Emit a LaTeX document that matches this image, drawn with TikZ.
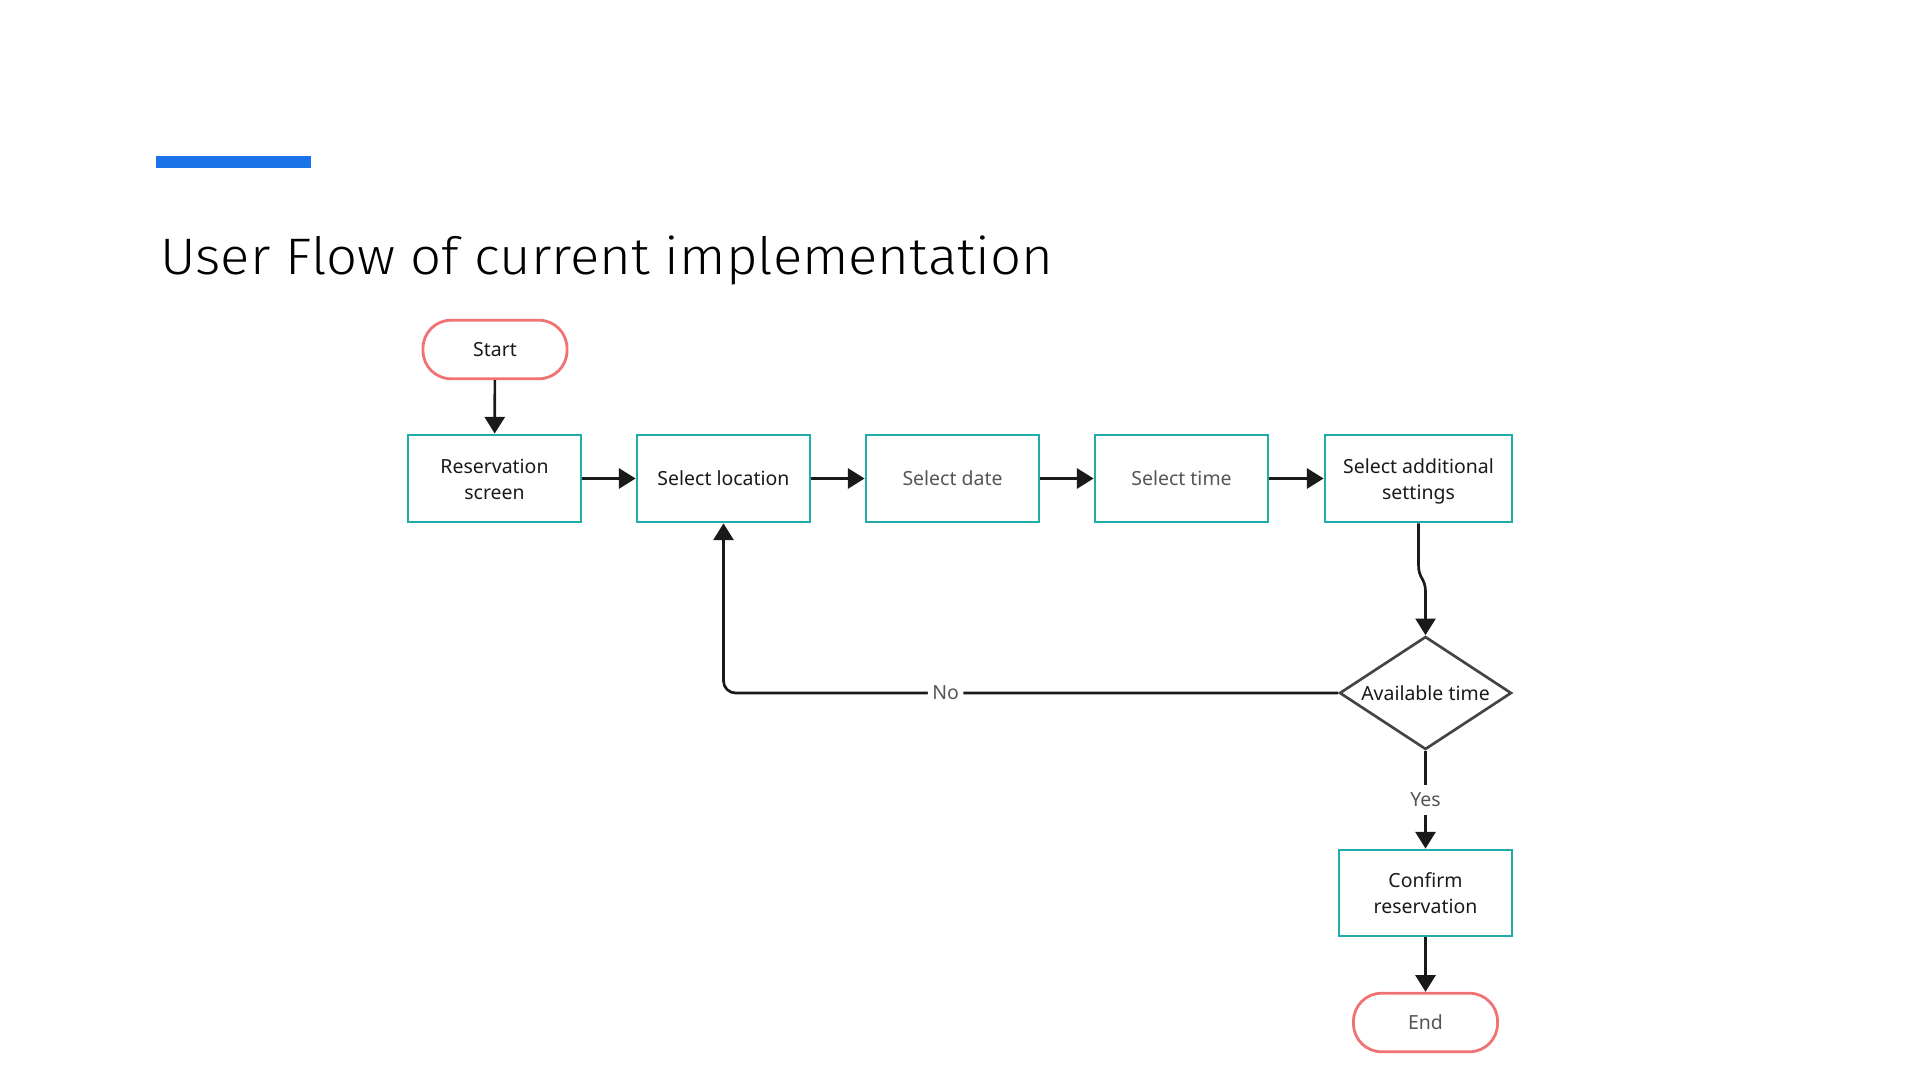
\documentclass[tikz,border=0pt]{standalone}
\usepackage{fontspec}
\setmainfont{Noto Sans}
\newfontfamily\titlefont{Fira Sans Light}
\usetikzlibrary{arrows.meta,shapes.geometric}
\definecolor{tealb}{HTML}{20ACA8}
\definecolor{redb}{HTML}{F07272}
\definecolor{bluebar}{HTML}{1A73E8}
\definecolor{ink}{HTML}{1A1A1A}
\definecolor{soft}{HTML}{555555}
\definecolor{decline}{HTML}{444444}
\newcommand{\twolines}[2]{\raisebox{-1.9pt}[\height][\depth]{\begin{tabular}{@{}c@{}}#1\\#2\end{tabular}}}
\begin{document}
\begin{tikzpicture}[x=0.75pt,y=-0.75pt,
  nodefont/.style={font=\fontsize{14.6pt}{19.3pt}\selectfont},
  proc/.style={nodefont, draw=tealb, line width=2.1pt, minimum width=129.75pt,
    minimum height=65.25pt, inner sep=0pt, align=center, text=ink},
  term/.style={nodefont, draw=redb, line width=2.1pt, rounded corners=21pt,
    minimum width=108pt, minimum height=43.9pt, inner sep=0pt, align=center, text=ink},
  dec/.style={nodefont, draw=decline, line width=2pt, shape=diamond, shape aspect=1.52,
    minimum width=129pt, minimum height=84.75pt, inner sep=0pt, text=ink},
  conn/.style={draw=ink, line width=2pt, -{Triangle[length=12.5pt,width=15pt]}},
  lbl/.style={nodefont, fill=white, text=soft, inner xsep=3.3pt, inner ysep=6pt}]
\useasboundingbox (0,0) rectangle (1920,1080);
\fill[white] (0,0) rectangle (1920,1080);
% header
\fill[bluebar] (156,156) rectangle (311,168);
\node[anchor=base west, inner sep=0pt] (title) at (160,275)
  {\resizebox{669.75pt}{29pt}{\titlefont User Flow of current implementation}};
% nodes
\node[term] (start) at (495,349.5) {Start};
\node[proc] (res)  at (494.5,478.5) {\twolines{Reservation}{screen}};
\node[proc] (loc)  at (723.5,478.5) {Select location};
\node[proc, text=soft] (date) at (952.5,478.5) {Select date};
\node[proc, text=soft] (time) at (1181.5,478.5) {Select time};
\node[proc, minimum width=140.25pt] (set) at (1418.5,478.5) {\twolines{Select additional}{settings}};
\node[dec] (avail) at (1425.5,693) {Available time};
\node[proc, minimum height=64.5pt] (conf) at (1425.5,893) {\twolines{Confirm}{reservation}};
\node[term, text=soft] (end) at (1425.5,1022.5) {End};
% connectors
\draw[conn] (start) -- (res);
\draw[conn] (res) -- (loc);
\draw[conn] (loc) -- (date);
\draw[conn] (date) -- (time);
\draw[conn] (time) -- (set);
\coordinate (b1) at (1418.5,565);
\coordinate (b2) at (1425.5,592);
\draw[conn] (set.south) -- (b1) .. controls +(0,14) and +(0,-14) .. (b2) -- (avail.north);
\draw[conn, rounded corners=9pt] (avail.west) -- node[lbl, pos=0.6386] {No} (avail.west -| loc.south) -- (loc.south);
\draw[conn] (avail.south) -- node[lbl] {Yes} (conf.north);
\draw[conn] (conf) -- (end);
\end{tikzpicture}
\end{document}
